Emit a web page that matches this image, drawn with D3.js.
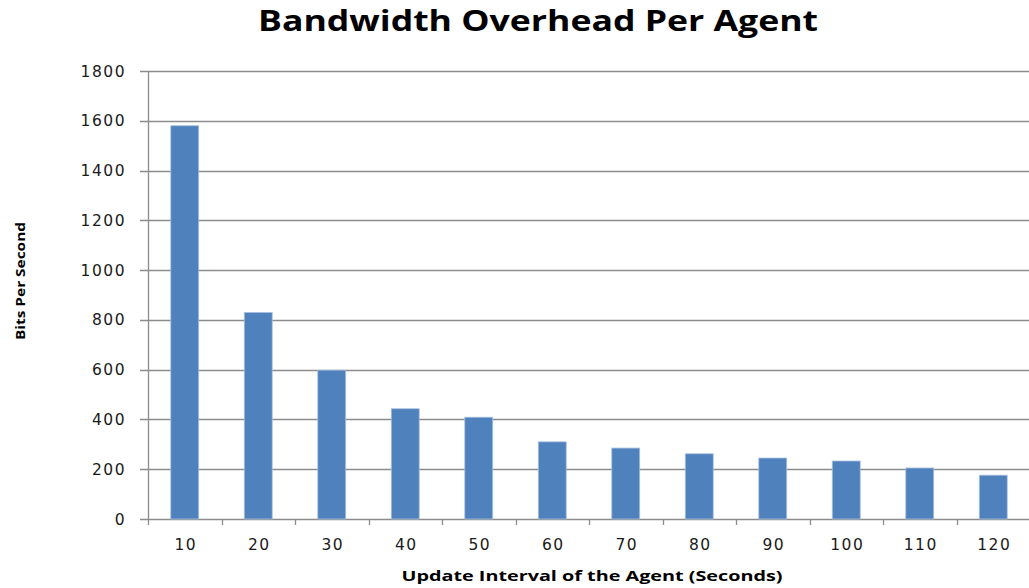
<!DOCTYPE html>
<html>
<head>
<meta charset="utf-8">
<script src="https://cdn.jsdelivr.net/npm/d3@7"></script>
<style>
	body { margin: 0; background: #fff; }
	svg { display: block; }
</style>
</head>
<body>
<div id="chart"></div>
<script>
// data
var intervals = ['10', '20', '30', '40', '50', '60', '70', '80', '90', '100', '110', '120'];
var bitsPerSecond = [1580, 830, 598, 443, 409, 310, 285, 262, 245, 233, 205, 176];
var yTicks = [0, 200, 400, 600, 800, 1000, 1200, 1400, 1600, 1800];

var width = 1029,
	height = 588,
	margin = { top: 71, left: 148, bottom: 69, right: -1 };

var svg = d3.select('#chart')
	.append('svg')
		.attr('width', width)
		.attr('height', height);

var x = d3.scaleBand()
	.domain(intervals)
	.range([margin.left, width - margin.right])
	.paddingInner(0.62)
	.paddingOuter(0.31);

var y = d3.scaleLinear()
	.domain([0, 1800])
	.range([height - margin.bottom, margin.top]);

// gridlines
svg.append('g')
	.selectAll('line')
	.data(yTicks)
	.enter()
	.append('line')
		.attr('x1', margin.left - 8)
		.attr('x2', width)
		.attr('y1', function(d){ return Math.round(y(d)) + 0.5; })
		.attr('y2', function(d){ return Math.round(y(d)) + 0.5; })
		.attr('stroke', '#8c8c8c')
		.attr('stroke-width', 1.3);

// y axis line
svg.append('line')
	.attr('x1', margin.left + 0.5).attr('x2', margin.left + 0.5)
	.attr('y1', margin.top).attr('y2', y(0))
	.attr('stroke', '#8c8c8c')
	.attr('stroke-width', 1.3);

// x tick marks at band boundaries
var step = x.step();
svg.append('g')
	.selectAll('line')
	.data(d3.range(intervals.length))
	.enter()
	.append('line')
		.attr('x1', function(i){ return Math.round(margin.left + i * step) + 0.5; })
		.attr('x2', function(i){ return Math.round(margin.left + i * step) + 0.5; })
		.attr('y1', y(0))
		.attr('y2', y(0) + 6)
		.attr('stroke', '#8c8c8c')
		.attr('stroke-width', 1.3);

// bars
svg.append('g')
	.selectAll('rect')
	.data(bitsPerSecond)
	.enter()
	.append('rect')
		.attr('x', function(d, i){ return x(intervals[i]); })
		.attr('y', function(d){ return y(d); })
		.attr('width', x.bandwidth())
		.attr('height', function(d){ return y(0) - y(d); })
		.attr('fill', '#4f81bd')
		.attr('stroke', '#a9c0de')
		.attr('stroke-width', 0.8);

// y tick labels
svg.append('g')
	.selectAll('text')
	.data(yTicks)
	.enter()
	.append('text')
		.attr('x', 126)
		.attr('y', function(d){ return y(d); })
		.attr('dy', '0.36em')
		.attr('text-anchor', 'end')
		.attr('font-family', 'DejaVu Sans, Verdana, sans-serif')
		.attr('font-size', 15.5)
		.attr('letter-spacing', 1.5)
		.attr('fill', '#1a1a1a')
		.text(function(d){ return d; });

// x tick labels
svg.append('g')
	.selectAll('text')
	.data(intervals)
	.enter()
	.append('text')
		.attr('x', function(d){ return x(d) + x.bandwidth() / 2 + 1; })
		.attr('y', 550)
		.attr('text-anchor', 'middle')
		.attr('font-family', 'DejaVu Sans, Verdana, sans-serif')
		.attr('font-size', 15.5)
		.attr('letter-spacing', 1.5)
		.attr('fill', '#1a1a1a')
		.text(function(d){ return d; });

// title
svg.append('text')
	.attr('x', 538)
	.attr('y', 31)
	.attr('text-anchor', 'middle')
	.attr('font-family', 'Open Sans, sans-serif')
	.attr('font-weight', 'bold')
	.attr('font-size', 29)
	.attr('textLength', 560)
	.attr('lengthAdjust', 'spacingAndGlyphs')
	.text('Bandwidth Overhead Per Agent');

// x axis title
svg.append('text')
	.attr('x', 592)
	.attr('y', 581)
	.attr('text-anchor', 'middle')
	.attr('font-family', 'Open Sans, sans-serif')
	.attr('font-weight', 'bold')
	.attr('font-size', 15)
	.attr('textLength', 381)
	.attr('lengthAdjust', 'spacingAndGlyphs')
	.text('Update Interval of the Agent (Seconds)');

// y axis title
svg.append('text')
	.attr('transform', 'translate(25,281) rotate(-90)')
	.attr('text-anchor', 'middle')
	.attr('font-family', 'Open Sans, sans-serif')
	.attr('font-weight', 'bold')
	.attr('font-size', 13)
	.attr('textLength', 118)
	.attr('lengthAdjust', 'spacingAndGlyphs')
	.text('Bits Per Second');
</script>
</body>
</html>
